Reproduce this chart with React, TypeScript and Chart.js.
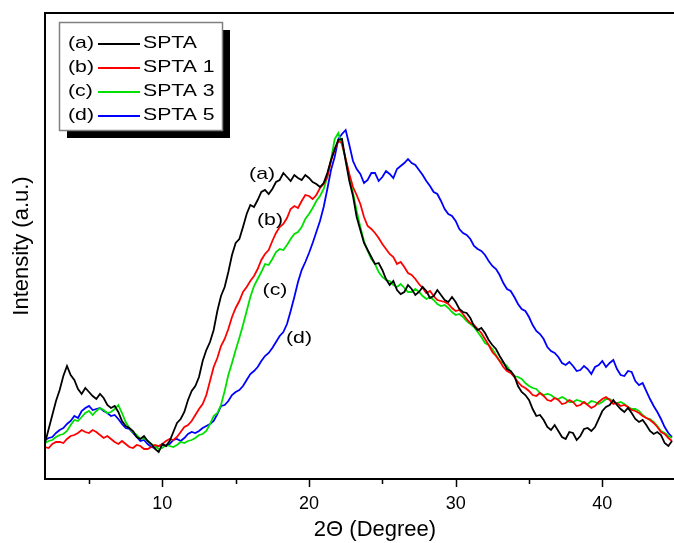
import React, { useEffect, useRef } from "react";
import { Chart, registerables } from "chart.js";

Chart.register(...registerables);

// 2-theta sampling: first angle and step (degrees); one value per step in each series
const degreeStart = 2;
const degreeStep = 0.25;

// Intensities (a.u.), rows of 8 values = 2 degrees (2.00 ... 44.75)
const spta = [
  36, 50, 64, 78, 89, 103, 113, 104,
  99, 90, 85, 91, 87, 83, 80, 85,
  81, 74, 71, 73, 67, 58, 53, 51,
  48, 42, 40, 43, 38, 35, 30, 27,
  35, 33, 38, 47, 56, 60, 67, 79,
  88, 93, 102, 118, 129, 137, 149, 168,
  183, 192, 207, 224, 236, 240, 252, 265,
  274, 272, 279, 287, 289, 285, 290, 297,
  299, 306, 302, 298, 304, 301, 299, 304,
  301, 297, 295, 292, 296, 306, 319, 330,
  339, 340, 318, 298, 283, 262, 249, 236,
  229, 222, 215, 216, 209, 200, 194, 198,
  189, 185, 187, 194, 190, 184, 187, 192,
  188, 181, 183, 189, 184, 179, 177, 182,
  177, 170, 167, 166, 161, 153, 149, 151,
  146, 139, 134, 130, 123, 117, 110, 108,
  103, 93, 87, 84, 79, 70, 63, 64,
  59, 52, 49, 54, 48, 42, 40, 47,
  46, 39, 43, 50, 51, 48, 52, 60,
  68, 72, 74, 79, 74, 70, 67, 71,
  66, 60, 57, 59, 54, 48, 45, 47,
  44, 36, 33, 38,
];

const spta1 = [
  32, 31, 35, 37, 37, 36, 40, 43,
  44, 46, 49, 47, 46, 49, 47, 44,
  41, 43, 40, 37, 35, 38, 35, 32,
  31, 34, 33, 30, 30, 32, 34, 33,
  35, 38, 40, 39, 42, 47, 52, 54,
  58, 64, 70, 75, 84, 98, 112, 121,
  133, 140, 150, 162, 171, 178, 187, 192,
  198, 203, 210, 219, 225, 229, 238, 246,
  252, 255, 261, 270, 273, 271, 278, 284,
  283, 280, 284, 291, 295, 302, 318, 329,
  338, 336, 320, 305, 292, 284, 275, 262,
  253, 250, 246, 241, 235, 230, 225, 222,
  215, 217, 212, 206, 204, 200, 195, 191,
  186, 188, 183, 179, 178, 177, 175, 171,
  168, 169, 165, 160, 156, 154, 150, 146,
  140, 134, 127, 123, 118, 112, 108, 106,
  102, 97, 93, 91, 88, 84, 83, 86,
  83, 79, 78, 81, 79, 75, 76, 79,
  77, 73, 74, 77, 74, 71, 73, 77,
  80, 82, 79, 75, 76, 73, 74, 72,
  69, 68, 66, 63, 61, 59, 56, 52,
  47, 45, 41, 38,
];

const spta3 = [
  36, 38, 39, 42, 44, 45, 48, 54,
  59, 58, 62, 66, 68, 64, 68, 71,
  69, 66, 67, 70, 74, 66, 57, 51,
  47, 44, 40, 41, 38, 35, 33, 30,
  31, 34, 33, 32, 34, 37, 36, 38,
  39, 41, 44, 45, 48, 55, 63, 66,
  74, 88, 104, 116, 129, 141, 154, 168,
  182, 193, 200, 207, 215, 214, 220, 227,
  230, 229, 234, 240, 245, 247, 252, 260,
  265, 271, 278, 283, 290, 302, 319, 340,
  346, 334, 320, 302, 286, 268, 252, 238,
  228, 220, 215, 207, 202, 199, 198, 194,
  192, 195, 191, 187, 187, 190, 187, 183,
  180, 182, 179, 175, 173, 174, 171, 167,
  164, 165, 162, 158, 155, 152, 147, 142,
  136, 134, 130, 124, 118, 116, 113, 107,
  103, 102, 100, 96, 93, 91, 90, 86,
  84, 85, 84, 81, 80, 82, 80, 77,
  77, 79, 78, 76, 75, 78, 77, 75,
  77, 80, 80, 77, 76, 77, 75, 72,
  70, 70, 68, 64, 61, 60, 57, 53,
  48, 46, 43, 41,
];

const spta5 = [
  39, 41, 42, 46, 49, 51, 55, 58,
  63, 61, 68, 71, 73, 69, 70, 71,
  68, 66, 63, 64, 60, 55, 51, 50,
  46, 42, 38, 39, 35, 32, 31, 33,
  34, 33, 35, 39, 40, 38, 41, 45,
  47, 46, 48, 51, 53, 55, 58, 65,
  73, 74, 78, 84, 87, 89, 93, 99,
  105, 108, 112, 118, 123, 126, 131, 137,
  143, 147, 155, 168, 182, 197, 209, 217,
  226, 236, 247, 258, 272, 290, 309, 322,
  340, 345, 349, 334, 318, 310, 305, 296,
  299, 306, 306, 298, 302, 308, 305, 301,
  310, 313, 316, 320, 316, 314, 309, 304,
  298, 293, 287, 285, 278, 270, 265, 263,
  258, 250, 246, 244, 240, 233, 230, 228,
  224, 218, 213, 210, 204, 196, 190, 188,
  182, 175, 170, 168, 162, 154, 148, 145,
  140, 132, 128, 126, 122, 116, 114, 117,
  113, 108, 109, 113, 110, 105, 112, 114,
  118, 112, 116, 119, 110, 104, 103, 108,
  107, 98, 94, 96, 88, 80, 73, 67,
  60, 52, 46, 42,
];

const seriesValues = [spta, spta1, spta3, spta5];
const seriesNames = ["SPTA", "SPTA 1", "SPTA 3", "SPTA 5"];
const seriesTags = ["(a)", "(b)", "(c)", "(d)"];
const seriesColors = ["#000000", "#ff0000", "#00e000", "#0000ff"];
const xTickValues = [5, 10, 15, 20, 25, 30, 35, 40, 45];
const xLabelValues = [10, 20, 30, 40];

const FONT = '"Liberation Sans", Arial, Helvetica, sans-serif';

function stretchedText(ctx: CanvasRenderingContext2D, text: string, x: number, y: number, align: "left" | "center") {
  const sx = 1.25;
  ctx.save();
  ctx.translate(x, y);
  ctx.scale(sx, 1);
  ctx.textAlign = align;
  ctx.textBaseline = "middle";
  ctx.fillText(text, 0, 0);
  ctx.restore();
}

const framePlugin = {
  id: "frameAndLegend",
  afterDraw(chart: any) {
    const { ctx, chartArea } = chart;
    const xs = chart.scales.x;
    const ys = chart.scales.y;
    const { left, right, top, bottom } = chartArea;
    ctx.save();
    // frame
    ctx.strokeStyle = "#000";
    ctx.lineWidth = 2;
    ctx.beginPath();
    ctx.moveTo(left, bottom);
    ctx.lineTo(left, top);
    ctx.lineTo(right, top);
    ctx.lineTo(right, bottom);
    ctx.closePath();
    ctx.stroke();
    // tick marks (major labelled, minor in between)
    ctx.lineWidth = 1.5;
    xTickValues.forEach((v) => {
      const px = Math.round(xs.getPixelForValue(v)) + 0.5;
      const len = xLabelValues.includes(v) ? 8 : 5;
      ctx.beginPath();
      ctx.moveTo(px, bottom);
      ctx.lineTo(px, bottom + len);
      ctx.stroke();
    });

    // curve labels (a)-(d), placed in data coordinates
    const curveLabelPos: [number, number][] = [
      [16.8, 305],
      [17.34, 259],
      [17.68, 189],
      [19.32, 141],
    ];
    ctx.fillStyle = "#000";
    ctx.font = `17px ${FONT}`;
    curveLabelPos.forEach(([dx, dy], i) => {
      stretchedText(ctx, seriesTags[i], xs.getPixelForValue(dx), ys.getPixelForValue(dy), "center");
    });

    // legend box with shadow
    const bx = left + 14;
    const by = top + 9;
    const bw = 163;
    const bh = 108;
    ctx.fillStyle = "#000";
    ctx.fillRect(bx + 8, by + 8, bw, bh);
    ctx.fillStyle = "#fff";
    ctx.fillRect(bx, by, bw, bh);
    ctx.strokeStyle = "#808080";
    ctx.lineWidth = 1.5;
    ctx.strokeRect(bx + 0.5, by + 0.5, bw, bh);
    seriesNames.forEach((name, i) => {
      const cy = by + 21 + i * 24;
      ctx.fillStyle = "#000";
      ctx.font = `17px ${FONT}`;
      stretchedText(ctx, seriesTags[i], bx + 9, cy, "left");
      ctx.strokeStyle = seriesColors[i];
      ctx.lineWidth = 2;
      ctx.beginPath();
      ctx.moveTo(bx + 39, cy + 1);
      ctx.lineTo(bx + 81, cy + 1);
      ctx.stroke();
      ctx.fillStyle = "#000";
      stretchedText(ctx, name, bx + 84, cy, "left");
    });
    ctx.restore();
  },
};

export default function App() {
  const canvasRef = useRef<HTMLCanvasElement | null>(null);

  useEffect(() => {
    const canvas = canvasRef.current;
    if (!canvas) return;
    const datasets = seriesValues.map((vals, i) => ({
      label: seriesNames[i],
      data: vals.map((v, j) => ({ x: degreeStart + j * degreeStep, y: v })),
      borderColor: seriesColors[i],
      backgroundColor: seriesColors[i],
      borderWidth: 1.8,
      pointRadius: 0,
      tension: 0,
      fill: false,
    }));
    const chart = new Chart(canvas, {
      type: "line",
      data: { datasets },
      options: {
        animation: false,
        responsive: false,
        maintainAspectRatio: false,
        layout: { padding: { left: 0, top: 13, right: 1, bottom: 0 } },
        plugins: {
          legend: { display: false },
          tooltip: { enabled: false },
        },
        scales: {
          x: {
            type: "linear",
            position: "bottom",
            min: 2,
            max: 47,
            grid: { display: false, drawTicks: false },
            border: { display: false },
            afterBuildTicks: (s: any) => {
              s.ticks = xLabelValues.map((v) => ({ value: v }));
            },
            ticks: {
              autoSkip: false,
              maxRotation: 0,
              padding: 14,
              color: "#000",
              font: { family: FONT, size: 18 },
              callback: (v: any) => String(v),
            },
            title: {
              display: true,
              text: "2Θ (Degree)",
              color: "#000",
              font: { family: FONT, size: 22 },
              padding: { top: 0, bottom: 0 },
            },
            afterFit: (s: any) => {
              s.height = 64;
            },
          },
          y: {
            type: "linear",
            min: 0,
            max: 466,
            grid: { display: false, drawTicks: false },
            border: { display: false },
            ticks: { display: false },
            title: {
              display: true,
              text: "Intensity (a.u.)",
              color: "#000",
              font: { family: FONT, size: 22 },
              padding: { top: 9, bottom: 0 },
            },
            afterFit: (s: any) => {
              s.width = 45;
            },
          },
        },
      } as any,
      plugins: [framePlugin],
    });
    return () => chart.destroy();
  }, []);

  return (
    <div
      style={{
        position: "fixed",
        left: 0,
        top: 0,
        width: 674,
        height: 543,
        overflow: "hidden",
        background: "#fff",
      }}
    >
      <canvas ref={canvasRef} width={706} height={543} style={{ display: "block", width: 706, height: 543 }} />
    </div>
  );
}
